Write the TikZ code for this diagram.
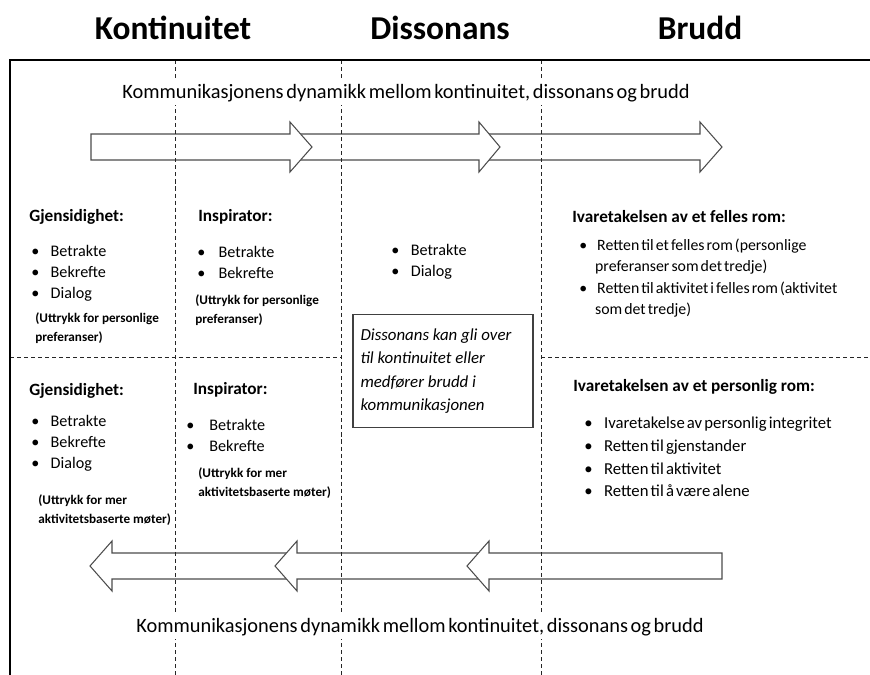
\documentclass[tikz,border=0pt]{standalone}
\usepackage{fontspec}
\setmainfont{Carlito}
\usetikzlibrary{positioning}

% bullet with a fixed gap before the text
\newcommand{\bul}[1][11pt]{\makebox[#1][l]{\textbullet}}
% narrow word spaces
\newcommand{\tightspace}{\spaceskip=0.13em\relax}
% white block arrow: tail x, back of head x, tip x, middle y
\newcommand{\blockarrow}[4]{%
  \draw[fatarrow] (#1,#4-13) -- (#2,#4-13) -- (#2,#4-25) -- (#3,#4)
    -- (#2,#4+25) -- (#2,#4+13) -- (#1,#4+13) -- cycle;}

\begin{document}
\begin{tikzpicture}[x=0.02cm, y=-0.02cm,
  title/.style={font=\fontsize{19}{22}\selectfont\bfseries},
  head/.style={anchor=west, inner sep=0pt, font=\fontsize{9.8}{12}\selectfont\bfseries},
  item/.style={anchor=west, inner sep=0pt, align=flush left, font=\fontsize{9.2}{12}\selectfont},
  note/.style={anchor=west, inner sep=0pt, align=flush left, font=\fontsize{7.5}{10.8}\selectfont\bfseries},
  dyn/.style={fill=white, inner sep=2pt, font=\fontsize{11.6}{14}\selectfont\tightspace},
  infobox/.style={draw=black!75, fill=white, line width=0.6pt, align=flush left,
    text width=3.3cm, inner xsep=0.15cm, minimum height=2.26cm,
    font=\fontsize{9.6}{13.3}\selectfont\itshape},
  divider/.style={black!85, line width=0.5pt, dash pattern=on 2.3pt off 1.7pt},
  fatarrow/.style={draw=black!70, fill=white, line width=0.6pt},
  frame/.style={line width=1.7pt, line join=miter}]
  \clip (0,0) rectangle (870,675);

  % Titles
  \node[title] (kont) at (173,28) {Kontinuitet};
  \node[title] (diss) at (440,28) {Dissonans};
  \node[title] (brudd) at (700,28) {Brudd};

  % Arrows, back to front
  \blockarrow{483}{700}{722}{147}
  \blockarrow{295}{479}{500}{147}
  \blockarrow{91}{290}{312}{147}
  \blockarrow{295}{112}{90}{566}
  \blockarrow{485}{297}{275}{566}
  \blockarrow{722}{489}{467}{566}

  % Dividers
  \foreach \x in {175,341,541}
    \draw[divider] (\x,60) -- (\x,675);
  \draw[divider] (10,357) -- (341,357);
  \draw[divider] (541,357) -- (870,357);

  % Frame
  \draw[frame] (10,700) -- (10,60) -- (900,60);

  % Dynamics text
  \node[dyn] (dynTop) at (406,93) {Kommunikasjonens dynamikk mellom kontinuitet, dissonans og brudd};
  \node[dyn] (dynBot) at (420,627) {Kommunikasjonens dynamikk mellom kontinuitet, dissonans og brudd};

  % Upper row
  \node[head] (gjTop) at (29,217) {Gjensidighet:};
  \node[item] (gjTopList) at (31,273) {\bul Betrakte\\ \bul Bekrefte\\ \bul Dialog};
  \node[note] (gjTopNote) at (35,328) {(Uttrykk for personlige\\preferanser)};
  \node[head] (inspTop) at (198,217) {Inspirator:};
  \node[item] (inspTopList) at (197,262) {\bul[10pt] Betrakte\\ \bul[10pt] Bekrefte};
  \node[note] (inspTopNote) at (195,310) {(Uttrykk for personlige\\preferanser)};
  \node[item] (dissList) at (391,262) {\bul[9pt] Betrakte\\ \bul[9pt] Dialog};
  \node[head] (felles) at (572,217) {Ivaretakelsen av et felles rom:};
  \node[item, font=\fontsize{9}{12.2}\selectfont\tightspace] (fellesList) at (579,278)
    {\bul[9pt] Retten til et felles rom (personlige\\ \hspace*{9pt}preferanser som det tredje)\\
     \bul[9pt] Retten til aktivitet i felles rom (aktivitet\\ \hspace*{9pt}som det tredje)};

  % Middle box
  \node[infobox] (dissBox) at (443,371) {Dissonans kan gli over\\til kontinuitet eller\\medfører brudd i\\kommunikasjonen};

  % Lower row
  \node[head] (gjBot) at (29,391) {Gjensidighet:};
  \node[item] (gjBotList) at (31,443) {\bul Betrakte\\ \bul Bekrefte\\ \bul Dialog};
  \node[note] (gjBotNote) at (38,510) {(Uttrykk for mer\\aktivitetsbaserte møter)};
  \node[head] (inspBot) at (193,390) {Inspirator:};
  \node[item] (inspBotList) at (186,435) {\bul[11pt] Betrakte\\ \bul[11pt] Bekrefte};
  \node[note] (inspBotNote) at (198,483) {(Uttrykk for mer\\aktivitetsbaserte møter)};
  \node[head] (personlig) at (573,387) {Ivaretakelsen av et personlig rom:};
  \node[item, font=\fontsize{9.5}{13}\selectfont\tightspace] (personligList) at (584,457)
    {\bul[10pt] Ivaretakelse av personlig integritet\\ \bul[10pt] Retten til gjenstander\\
     \bul[10pt] Retten til aktivitet\\ \bul[10pt] Retten til å være alene};
\end{tikzpicture}
\end{document}
